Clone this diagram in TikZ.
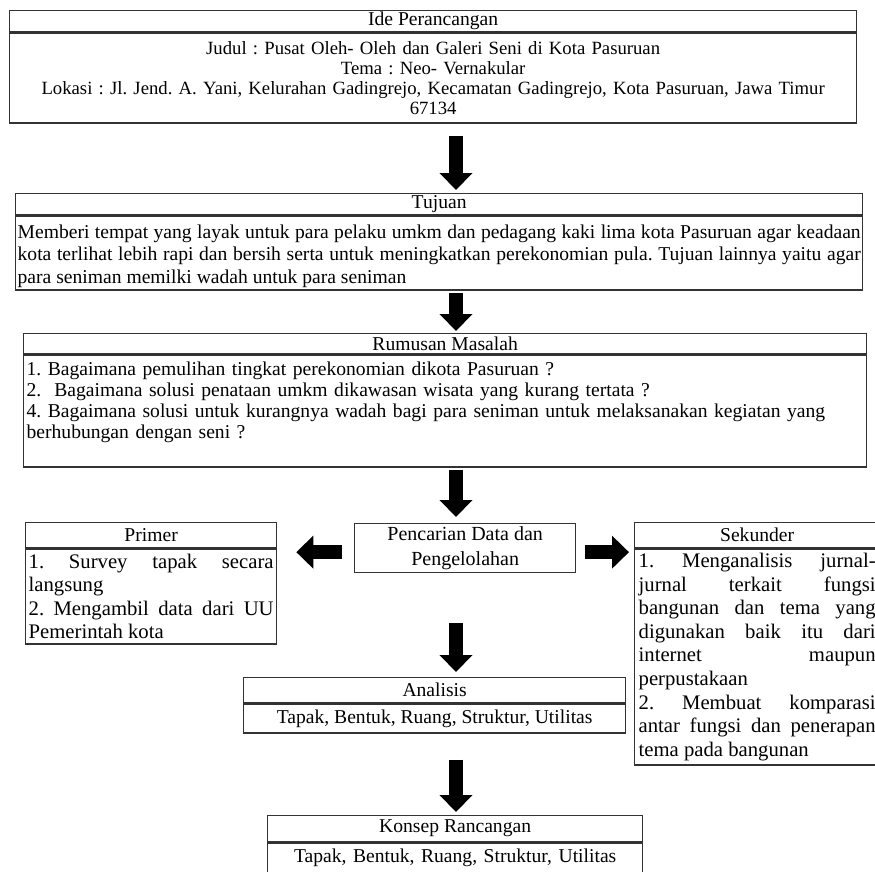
\documentclass[tikz,border=0pt]{standalone}
\usepackage{fontspec}
\setmainfont{Liberation Serif}
\usetikzlibrary{arrows.meta}
\frenchspacing

\begin{document}
\begin{tikzpicture}[x=1pt, y=-1pt,
    every node/.style={inner sep=0pt, anchor=north west},
    box/.style={draw=black!80, line width=1.3pt},
    head/.style={box, font=\fontsize{19.6}{21}\selectfont},
    bigarrow/.style={line width=14pt, -{Triangle[width=32pt,length=17pt]}}]
    \useasboundingbox (0,0) rectangle (875,871);
    \clip (0,0) rectangle (875,871);
    \coordinate (axis) at (456,0);

    % ide perancangan
    \node[head, minimum width=847pt, minimum height=21pt] (ide) at (9,10) {Ide Perancangan};
    \node[box, minimum height=90pt, text width=847pt, align=center,
          font=\fontsize{18.7}{20}\selectfont] (ideB) at (ide.south west)
          {Judul : Pusat Oleh- Oleh dan Galeri Seni di Kota Pasuruan\\
           Tema : Neo- Vernakular\\
           Lokasi : Jl. Jend. A. Yani, Kelurahan Gadingrejo, Kecamatan Gadingrejo, Kota Pasuruan, Jawa Timur\\
           67134};

    % tujuan
    \node[head, minimum width=847pt, minimum height=21pt] (tujuan) at (15,193) {Tujuan};
    \node[box, minimum height=74pt, inner xsep=2pt, text width=843pt, align=justify,
          font=\fontsize{19.6}{22.5}\selectfont] (tujuanB) at (tujuan.south west)
          {\rule{0pt}{19.5pt}Memberi tempat yang layak untuk para pelaku umkm dan pedagang kaki lima kota Pasuruan agar keadaan\linebreak
           kota terlihat lebih rapi dan bersih serta untuk meningkatkan perekonomian pula. Tujuan lainnya yaitu agar\linebreak
           para seniman memilki wadah untuk para seniman};

    % rumusan masalah
    \node[head, minimum width=843pt, minimum height=20pt] (rumusan) at (23,333) {Rumusan Masalah};
    \node[box, minimum height=112pt, inner xsep=3pt, text width=837pt, align=left,
          font=\fontsize{19.6}{21}\selectfont] (rumusanB) at (rumusan.south west)
          {1. Bagaimana pemulihan tingkat perekonomian dikota Pasuruan ?\\
           2.~ Bagaimana solusi penataan umkm dikawasan wisata yang kurang tertata ?\\
           4. Bagaimana solusi untuk kurangnya wadah bagi para seniman untuk melaksanakan kegiatan yang\\
           berhubungan dengan seni ?\\ \mbox{}};

    % pencarian data
    \node[box, minimum width=221pt, minimum height=49pt, align=center,
          font=\fontsize{20}{25}\selectfont] (pencarian) at (354,523)
          {Pencarian Data dan\\ Pengelolahan};

    % primer
    \node[head, minimum width=251pt, minimum height=25pt] (primer) at (25,522) {Primer};
    \node[box, minimum height=95pt, inner xsep=3pt, text width=245pt, align=justify,
          font=\fontsize{20.7}{23.5}\selectfont] (primerB) at (primer.south west)
          {1. Survey tapak secara\linebreak langsung\par
           2. Mengambil data dari UU\linebreak Pemerintah kota};

    % sekunder
    \node[head, minimum width=245pt, minimum height=25pt] (sekunder) at (634,522) {Sekunder};
    \node[box, minimum height=216pt, inner xsep=4pt, text width=237pt, align=justify,
          font=\fontsize{20.7}{23.6}\selectfont] (sekunderB) at (sekunder.south west)
          {1. Menganalisis jurnal-\linebreak jurnal terkait fungsi\linebreak
           bangunan dan tema yang\linebreak digunakan baik itu dari\linebreak
           internet maupun\linebreak perpustakaan\par
           2. Membuat komparasi\linebreak antar fungsi dan penerapan\linebreak
           tema pada bangunan};

    % analisis
    \node[head, minimum width=382pt, minimum height=25pt] (analisis) at (243,677) {Analisis};
    \node[box, minimum width=382pt, minimum height=29pt, font=\fontsize{19.6}{22}\selectfont]
          (analisisB) at (analisis.south west) {Tapak, Bentuk, Ruang, Struktur, Utilitas};

    % konsep rancangan
    \node[head, minimum width=375pt, minimum height=26pt] (konsep) at (267,815) {Konsep Rancangan};
    \node[box, minimum height=48pt, text width=375pt, align=center,
          font=\fontsize{19.6}{22}\selectfont] (konsepB) at (konsep.south west)
          {Tapak, Bentuk, Ruang, Struktur, Utilitas\\ \mbox{}};

    % arrows
    \draw[bigarrow, shorten <=12pt, shorten >=3pt] (ideB.south -| axis) -- (tujuan.north -| axis);
    \draw[bigarrow, shorten <=2pt, shorten >=2pt] (tujuanB.south -| axis) -- (rumusan.north -| axis);
    \draw[bigarrow, shorten <=2pt, shorten >=6pt] (rumusanB.south -| axis) -- (pencarian.north -| axis);
    \draw[bigarrow, shorten <=12pt, shorten >=19pt] ([yshift=-4pt]pencarian.west) -- ([yshift=-4pt]pencarian.west -| primerB.east);
    \draw[bigarrow, shorten <=9pt, shorten >=5pt] ([yshift=-4pt]pencarian.east) -- ([yshift=-4pt]pencarian.east -| sekunderB.west);
    \draw[bigarrow, shorten <=50pt, shorten >=5pt] (pencarian.south -| axis) -- (analisis.north -| axis);
    \draw[bigarrow, shorten <=26pt, shorten >=3pt] (analisisB.south -| axis) -- (konsep.north -| axis);
\end{tikzpicture}
\end{document}
